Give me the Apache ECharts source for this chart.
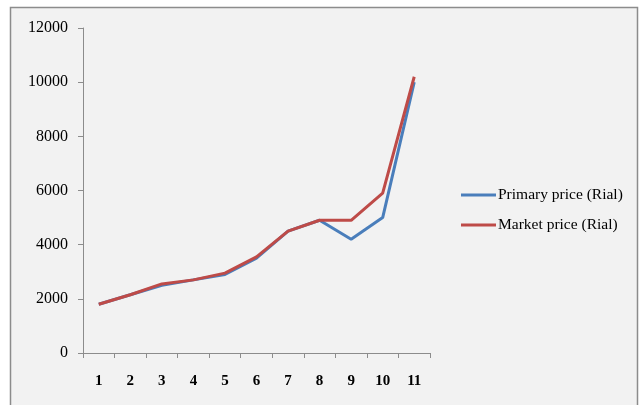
<!DOCTYPE html>
<html><head><meta charset="utf-8">
<script src="https://cdn.jsdelivr.net/npm/echarts@6/dist/echarts.min.js"></script>
<style>html,body{margin:0;padding:0;background:#fff;}#c{width:642px;height:405px;}</style>
</head><body><div id="c"></div>
<script>
const categories = ['1','2','3','4','5','6','7','8','9','10','11'];
const primaryPrice = [1800, 2150, 2500, 2700, 2900, 3500, 4500, 4900, 4200, 5000, 10000];
const marketPrice  = [1800, 2150, 2550, 2700, 2950, 3550, 4500, 4900, 4900, 5900, 10200];
const yTicks = [0, 2000, 4000, 6000, 8000, 10000, 12000];

const chart = echarts.init(document.getElementById('c'));
const font = 'Liberation Serif, Times New Roman, serif';
chart.setOption({
  animation: false,
  graphic: [{
    type: 'rect', z: -10,
    shape: {x: 10.5, y: 7.5, width: 627, height: 420},
    style: {fill: '#f2f2f2', stroke: '#8c8c8c', lineWidth: 1.5}
  }],
  grid: {left: 83, top: 28, right: 212, bottom: 52},
  legend: {
    orient: 'vertical', left: 456, top: 182, itemWidth: 35, itemHeight: 3, itemGap: 14,
    icon: 'rect',
    textStyle: {fontFamily: font, fontSize: 15.5, color: '#000', padding: [0, 0, 0, -3]},
    data: ['Primary price (Rial)', 'Market price (Rial)']
  },
  xAxis: {
    type: 'category', data: categories, boundaryGap: true,
    axisLine: {lineStyle: {color: '#8c8c8c'}},
    axisTick: {show: true, length: 5, lineStyle: {color: '#8c8c8c'}},
    axisLabel: {fontFamily: font, fontSize: 15, fontWeight: 'bold', color: '#000', margin: 21}
  },
  yAxis: {
    type: 'value', min: 0, max: 12000, interval: 2000,
    axisLine: {show: true, lineStyle: {color: '#8c8c8c'}},
    axisTick: {show: true, length: 5, lineStyle: {color: '#8c8c8c'}},
    splitLine: {show: false},
    axisLabel: {fontFamily: font, fontSize: 16, color: '#000', margin: 15,
      formatter: v => yTicks.includes(v) ? String(v) : ''}
  },
  series: [
    {name: 'Primary price (Rial)', type: 'line', data: primaryPrice, symbol: 'none',
     lineStyle: {color: '#4a7ebb', width: 3}, itemStyle: {color: '#4a7ebb'}},
    {name: 'Market price (Rial)', type: 'line', data: marketPrice, symbol: 'none',
     lineStyle: {color: '#be4b48', width: 3}, itemStyle: {color: '#be4b48'}}
  ]
});
</script></body></html>
